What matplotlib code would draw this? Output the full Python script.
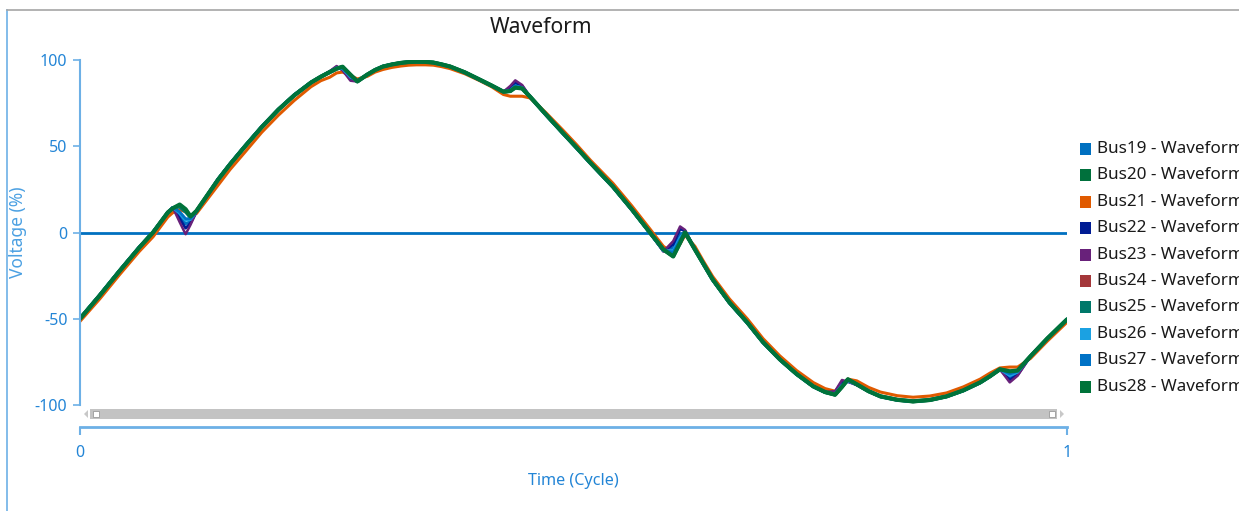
"""Bus voltage waveform over one cycle, redrawn with matplotlib."""
import matplotlib
matplotlib.use("Agg")
import matplotlib.pyplot as plt
from matplotlib.patches import Rectangle, Polygon
from matplotlib.lines import Line2D

W, H = 1239, 511
plt.rcParams["font.family"] = ["Noto Sans", "DejaVu Sans"]

# time in cycles, denser round the six commutation notches
cycle = [0.000, 0.020, 0.040, 0.060, 0.074,
         0.089, 0.094, 0.101, 0.107, 0.112, 0.118,
         0.140, 0.152, 0.167, 0.184, 0.201, 0.217, 0.234, 0.244,
         0.253, 0.260, 0.266, 0.274, 0.281, 0.291,
         0.299, 0.307, 0.316, 0.325, 0.333, 0.341, 0.350, 0.358, 0.366, 0.375, 0.390, 0.405, 0.417,
         0.429, 0.436, 0.441, 0.448, 0.456,
         0.472, 0.489, 0.503, 0.517, 0.540, 0.559, 0.5775,
         0.591, 0.601, 0.608, 0.613, 0.623,
         0.632, 0.641, 0.658, 0.676, 0.692, 0.709, 0.726, 0.743, 0.755,
         0.765, 0.772, 0.778, 0.787,
         0.799, 0.811, 0.828, 0.844, 0.861, 0.878, 0.895, 0.912, 0.922,
         0.932, 0.942, 0.950, 0.963,
         0.980, 1.000]

bus19 = [-49.5, -36.0, -21.9, -8.3, 0.5,
         11.6, 14.5, 10.0, 5.0, 6.5, 12.0,
         31.2, 40.0, 50.3, 61.5, 71.6, 79.9, 87.2, 90.5,
         93.0, 95.5, 94.5, 89.5, 88.0, 91.5,
         94.4, 96.4, 97.5, 98.4, 98.8, 99.0, 98.8, 98.4, 97.3, 96.0, 92.5, 88.2, 84.8,
         81.6, 83.0, 86.0, 84.5, 78.7,
         68.0, 57.4, 48.8, 40.0, 26.1, 13.0, -0.5,
         -10.5, -9.0, -1.5, 0.5, -9.8,
         -19.0, -27.7, -41.0, -52.6, -64.0, -73.9, -82.4, -89.5, -92.8,
         -93.5, -88.0, -86.5, -88.2,
         -92.2, -95.2, -97.2, -98.0, -97.2, -95.2, -91.8, -87.2, -83.5,
         -79.3, -84.0, -81.5, -71.8,
         -61.8, -50.2]
bus20 = [-50.0, -36.5, -22.4, -8.8, 0.0,
         11.6, 14.0, 15.8, 13.0, 9.0, 12.4,
         30.7, 39.5, 49.8, 61.0, 71.2, 79.5, 86.9, 90.3,
         93.0, 95.0, 96.0, 91.2, 87.6, 91.5,
         94.2, 96.2, 97.4, 98.3, 98.8, 99.0, 98.9, 98.5, 97.5, 96.2, 92.8, 88.6, 85.2,
         81.6, 82.2, 84.3, 83.6, 78.7,
         68.5, 57.9, 49.3, 40.5, 26.6, 13.5, 0.0,
         -9.8, -13.7, -5.8, 0.2, -9.8,
         -18.5, -27.2, -40.5, -52.1, -63.5, -73.5, -82.0, -89.2, -92.5,
         -94.0, -89.4, -85.2, -88.0,
         -92.0, -95.0, -97.0, -97.9, -97.1, -95.0, -91.5, -86.9, -83.3,
         -79.3, -80.7, -80.1, -71.8,
         -61.5, -50.4]
bus21 = [-51.5, -38.5, -24.5, -11.0, -2.5,
         9.0, 11.5, 13.3, 12.0, 10.0, 11.0,
         27.5, 36.5, 46.5, 58.0, 68.0, 76.5, 84.5, 88.0,
         90.0, 92.5, 93.0, 91.0, 89.0, 90.5,
         93.0, 94.5, 95.7, 96.5, 97.0, 97.2, 97.2, 97.0, 96.2, 95.0, 92.0, 88.0, 84.5,
         80.0, 79.0, 79.0, 79.0, 78.0,
         69.5, 59.5, 51.0, 42.0, 28.5, 15.5, 2.0,
         -8.0, -12.0, -6.5, -1.5, -8.0,
         -17.0, -25.5, -38.5, -50.0, -61.5, -71.5, -80.0, -87.0, -90.5,
         -92.0, -88.5, -85.0, -86.0,
         -89.8, -92.5, -94.6, -95.5, -94.8, -93.0, -89.5, -85.0, -81.5,
         -78.5, -78.0, -78.0, -73.0,
         -63.0, -52.0]
bus22 = [-49.8, -36.3, -22.2, -8.6, 0.2,
         11.6, 14.5, 8.0, 2.5, 5.5, 12.0,
         30.9, 39.7, 50.0, 61.2, 71.4, 79.7, 87.0, 90.4,
         93.3, 96.0, 94.5, 89.0, 87.8, 91.5,
         94.3, 96.3, 97.5, 98.3, 98.8, 99.0, 98.9, 98.5, 97.4, 96.1, 92.7, 88.4, 85.0,
         81.6, 84.0, 87.0, 85.0, 78.7,
         68.3, 57.7, 49.1, 40.3, 26.4, 13.3, -0.2,
         -10.8, -7.0, 2.0, 1.0, -9.8,
         -18.7, -27.4, -40.7, -52.3, -63.7, -73.7, -82.1, -89.3, -92.6,
         -92.5, -86.5, -86.0, -88.3,
         -92.1, -95.1, -97.1, -97.9, -97.1, -95.1, -91.6, -87.0, -83.4,
         -79.3, -85.5, -82.5, -71.8,
         -61.6, -50.3]
bus23 = [-49.8, -36.3, -22.2, -8.6, 0.2,
         11.6, 14.5, 6.0, -1.0, 4.5, 12.0,
         30.9, 39.7, 50.0, 61.2, 71.4, 79.7, 87.0, 90.4,
         93.5, 96.5, 94.0, 88.0, 87.5, 91.5,
         94.3, 96.3, 97.5, 98.3, 98.8, 99.0, 98.9, 98.5, 97.4, 96.1, 92.7, 88.4, 85.0,
         81.6, 85.0, 88.2, 85.5, 78.7,
         68.3, 57.7, 49.1, 40.3, 26.4, 13.3, -0.2,
         -11.0, -5.0, 3.5, 1.5, -9.8,
         -18.7, -27.4, -40.7, -52.3, -63.7, -73.7, -82.1, -89.3, -92.6,
         -92.0, -85.5, -86.5, -88.5,
         -92.1, -95.1, -97.1, -97.9, -97.1, -95.1, -91.6, -87.0, -83.4,
         -79.3, -86.9, -83.0, -71.8,
         -61.6, -50.3]
bus24 = [-50.0, -36.5, -22.4, -8.8, 0.0,
         11.6, 14.2, 15.2, 12.5, 9.0, 12.4,
         30.7, 39.5, 49.8, 61.0, 71.2, 79.5, 86.9, 90.3,
         93.0, 95.1, 95.9, 91.0, 87.7, 91.5,
         94.2, 96.2, 97.4, 98.3, 98.8, 99.0, 98.9, 98.5, 97.5, 96.2, 92.8, 88.6, 85.2,
         81.6, 82.1, 84.2, 83.6, 78.7,
         68.5, 57.9, 49.3, 40.5, 26.6, 13.5, 0.0,
         -9.8, -13.6, -5.6, 0.1, -9.8,
         -18.5, -27.2, -40.5, -52.1, -63.5, -73.5, -82.0, -89.2, -92.5,
         -94.0, -89.3, -85.3, -88.0,
         -92.0, -95.0, -97.0, -97.9, -97.1, -95.0, -91.5, -86.9, -83.3,
         -79.3, -80.9, -80.2, -71.8,
         -61.5, -50.4]
bus25 = [-50.0, -36.5, -22.4, -8.8, 0.0,
         11.6, 14.2, 15.0, 12.0, 8.8, 12.4,
         30.7, 39.5, 49.8, 61.0, 71.2, 79.5, 86.9, 90.3,
         93.0, 95.0, 95.8, 91.0, 87.6, 91.5,
         94.2, 96.2, 97.4, 98.3, 98.8, 99.0, 98.9, 98.5, 97.5, 96.2, 92.8, 88.6, 85.2,
         81.6, 82.0, 84.2, 83.6, 78.7,
         68.5, 57.9, 49.3, 40.5, 26.6, 13.5, 0.0,
         -9.9, -13.5, -5.5, 0.0, -9.8,
         -18.5, -27.2, -40.5, -52.1, -63.5, -73.5, -82.0, -89.2, -92.5,
         -94.0, -89.3, -85.3, -88.0,
         -92.0, -95.0, -97.0, -97.9, -97.1, -95.0, -91.5, -86.9, -83.3,
         -79.3, -80.8, -80.2, -71.8,
         -61.5, -50.4]
bus26 = [-49.6, -36.1, -22.0, -8.4, 0.4,
         11.6, 14.5, 11.0, 7.0, 7.5, 12.2,
         31.1, 39.9, 50.2, 61.4, 71.5, 79.8, 87.1, 90.4,
         93.0, 95.5, 95.0, 90.0, 88.0, 91.5,
         94.4, 96.4, 97.5, 98.4, 98.8, 99.0, 98.8, 98.4, 97.3, 96.0, 92.6, 88.3, 84.9,
         81.6, 82.5, 85.0, 84.0, 78.7,
         68.1, 57.5, 48.9, 40.1, 26.2, 13.1, -0.4,
         -10.5, -10.5, -3.0, 0.0, -9.8,
         -18.9, -27.6, -40.9, -52.5, -63.9, -73.8, -82.3, -89.4, -92.7,
         -93.5, -88.5, -86.0, -88.2,
         -92.1, -95.2, -97.2, -98.0, -97.2, -95.2, -91.7, -87.1, -83.4,
         -79.3, -83.0, -81.0, -71.8,
         -61.7, -50.2]
bus27 = [-49.7, -36.2, -22.1, -8.5, 0.3,
         11.6, 14.5, 12.0, 8.0, 8.0, 12.3,
         31.0, 39.8, 50.1, 61.3, 71.4, 79.7, 87.0, 90.4,
         93.0, 95.2, 95.3, 90.5, 88.0, 91.5,
         94.3, 96.3, 97.5, 98.4, 98.8, 99.0, 98.8, 98.4, 97.4, 96.1, 92.6, 88.4, 85.0,
         81.6, 82.3, 84.8, 83.8, 78.7,
         68.2, 57.6, 49.0, 40.2, 26.3, 13.2, -0.3,
         -10.2, -11.5, -4.0, 0.0, -9.8,
         -18.8, -27.5, -40.8, -52.4, -63.8, -73.7, -82.2, -89.3, -92.6,
         -93.8, -89.0, -85.8, -88.1,
         -92.1, -95.1, -97.1, -98.0, -97.1, -95.1, -91.6, -87.0, -83.4,
         -79.3, -82.0, -80.5, -71.8,
         -61.6, -50.3]
bus28 = [-50.0, -36.5, -22.4, -8.8, 0.0,
         11.6, 14.0, 16.2, 13.5, 9.3, 12.5,
         30.7, 39.5, 49.8, 61.0, 71.2, 79.5, 86.9, 90.3,
         93.0, 95.0, 96.1, 91.5, 87.6, 91.5,
         94.2, 96.2, 97.4, 98.3, 98.8, 99.0, 98.9, 98.5, 97.5, 96.2, 92.8, 88.6, 85.2,
         81.6, 82.0, 84.0, 83.5, 78.7,
         68.5, 57.9, 49.3, 40.5, 26.6, 13.5, 0.0,
         -9.8, -13.9, -6.0, 0.0, -9.8,
         -18.5, -27.2, -40.5, -52.1, -63.5, -73.5, -82.0, -89.2, -92.5,
         -94.0, -89.5, -85.1, -88.0,
         -92.0, -95.0, -97.0, -97.9, -97.1, -95.0, -91.5, -86.9, -83.3,
         -79.3, -80.5, -80.0, -71.8,
         -61.5, -50.4]

names = ["Bus19 - Waveform", "Bus20 - Waveform", "Bus21 - Waveform", "Bus22 - Waveform",
         "Bus23 - Waveform", "Bus24 - Waveform", "Bus25 - Waveform", "Bus26 - Waveform",
         "Bus27 - Waveform", "Bus28 - Waveform"]
colors = ["#0070C0", "#00703C", "#E05A00", "#001C94", "#68217A",
          "#A4373A", "#00786A", "#1BA1E2", "#0072C6", "#00733A"]
yticks = [-100, -50, 0, 50, 100]

AXIS_BLUE = "#6DB0E6"
TEXT_BLUE = "#2385D6"


def fx(px):
    return px / W


def fy(py):
    return 1 - py / H


def main(out):
    series = [bus19, bus20, bus21, bus22, bus23, bus24, bus25, bus26, bus27, bus28]
    fig = plt.figure(figsize=(W / 100, H / 100), dpi=100)

    # frame lines of the widget
    fig.add_artist(Line2D([fx(7), fx(7)], [fy(10), 0], color=AXIS_BLUE, lw=1.2))
    fig.add_artist(Line2D([fx(7), 1], [fy(10), fy(10)], color="#A6A6A6", lw=1.2))

    ax = fig.add_axes([fx(80), fy(405), fx(1067) - fx(80), fy(60) - fy(405)])
    ax.axhline(0, color="#0070C0", lw=2.0, zorder=1)
    widths = [2.0, 2.8, 2.2, 2.0, 1.8, 2.0, 2.6, 2.0, 2.0, 3.0]
    for ys, c, lw, n in zip(series, colors, widths, names):
        ax.plot(cycle, ys, color=c, lw=lw, label=n, zorder=2,
                solid_joinstyle="round", solid_capstyle="round")
    ax.set_xlim(0, 1)
    ax.set_ylim(-100, 100)
    ax.set_xticks([])
    ax.set_yticks(yticks)
    ax.set_yticklabels([str(v) for v in yticks])
    for s in ("top", "right", "bottom"):
        ax.spines[s].set_visible(False)
    ax.spines["left"].set_color(AXIS_BLUE)
    ax.spines["left"].set_linewidth(1.5)
    ax.tick_params(axis="y", colors=AXIS_BLUE, length=5, width=1.2, pad=4,
                   labelcolor=TEXT_BLUE, labelsize=11.5)
    ax.patch.set_alpha(0)

    # x axis sits below a scroll bar
    ax2 = fig.add_axes([fx(80), fy(427), fx(1067) - fx(80), 0.0005])
    ax2.set_xlim(0, 1)
    ax2.set_xticks([0, 1])
    ax2.set_xticklabels(["0", "1"])
    ax2.set_yticks([])
    for s in ("top", "right", "left"):
        ax2.spines[s].set_visible(False)
    ax2.spines["bottom"].set_color(AXIS_BLUE)
    ax2.spines["bottom"].set_linewidth(2.0)
    ax2.tick_params(axis="x", colors=AXIS_BLUE, length=6, width=1.5, pad=7,
                    labelcolor=TEXT_BLUE, labelsize=11.5)

    fig.add_artist(Rectangle((fx(90), fy(419)), fx(1057) - fx(90), fy(409) - fy(419),
                             transform=fig.transFigure, color="#C3C3C3", lw=0))
    for x0 in (93, 1049):
        fig.add_artist(Rectangle((fx(x0), fy(417)), fx(6) - fx(0), fy(411) - fy(417),
                                 transform=fig.transFigure, facecolor="white",
                                 edgecolor="#9A9A9A", lw=0.6))
    fig.add_artist(Polygon([(fx(84), fy(414)), (fx(88), fy(410)), (fx(88), fy(418))],
                           transform=fig.transFigure, color="#C8C8C8", lw=0))
    fig.add_artist(Polygon([(fx(1064), fy(414)), (fx(1060), fy(410)), (fx(1060), fy(418))],
                           transform=fig.transFigure, color="#C8C8C8", lw=0))

    fig.text(fx(541), fy(27), "Waveform", ha="center", va="center", fontsize=15.2, color="#1A1A1A")
    fig.text(fx(573), fy(481), "Time (Cycle)", ha="center", va="center", fontsize=11.6,
             color=TEXT_BLUE)
    fig.text(fx(18), fy(232), "Voltage (%)", ha="center", va="center", rotation=90,
             fontsize=12.5, color="#4BA0E2")

    # legend, clipped at the right edge like the original
    for i, (n, c) in enumerate(zip(names, colors)):
        yc = 149 + i * 26.4
        fig.add_artist(Rectangle((fx(1080), fy(yc + 6)), fx(11) - fx(0), fy(yc - 6) - fy(yc + 6),
                                 transform=fig.transFigure, color=c, lw=0))
        fig.text(fx(1097), fy(yc), n, ha="left", va="center", fontsize=12.3, color="#1A1A1A")

    fig.savefig(out, dpi=100)
    print("wrote", out)


if __name__ == "__main__":
    main("out.png")
